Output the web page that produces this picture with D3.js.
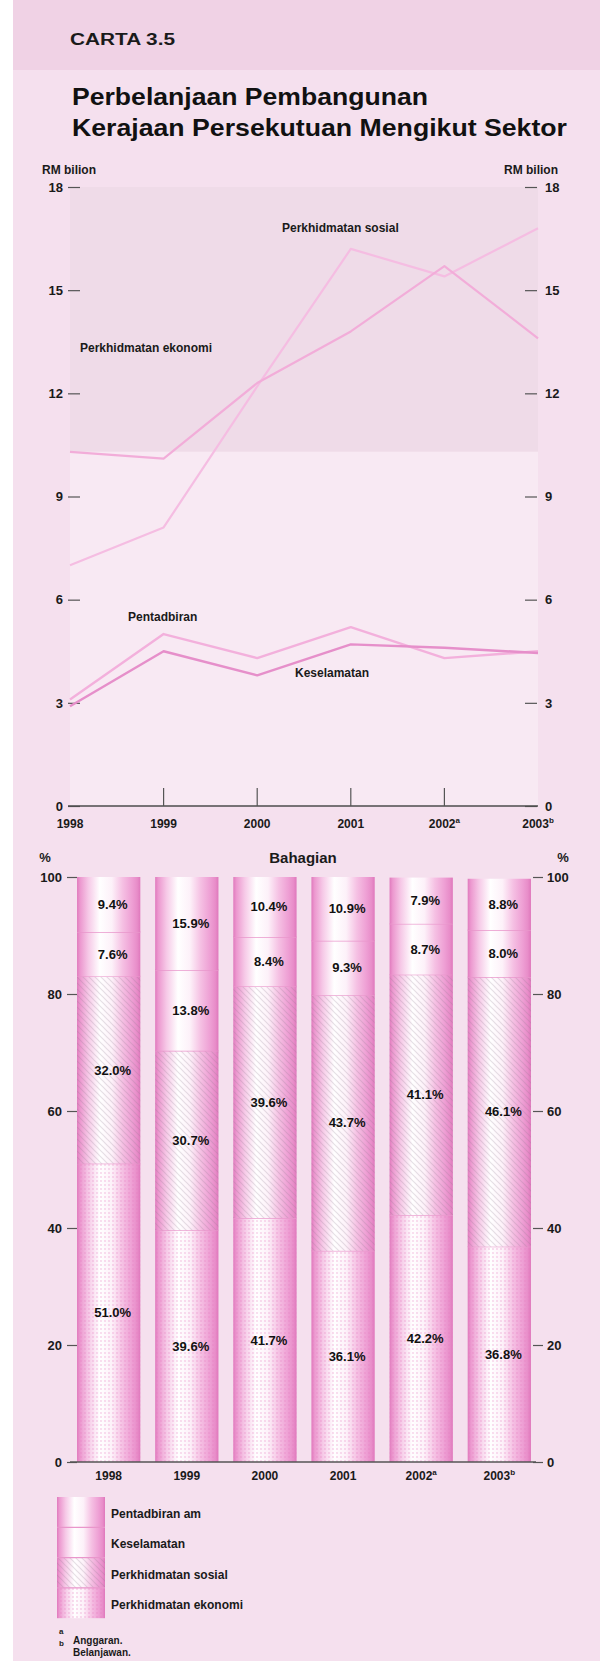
<!DOCTYPE html>
<html><head><meta charset="utf-8">
<script src="https://cdn.jsdelivr.net/npm/d3@7"></script>
<style>
body{margin:0;background:#fff;}
svg{display:block;font-family:"Liberation Sans",Arial,Helvetica,sans-serif;}
</style></head><body>
<svg id="c" width="600" height="1661"></svg>
<script>
// ---------- data ----------
const years = ["1998","1999","2000","2001","2002","2003"];
const yearSup = ["","","","","a","b"];
const rmEkonomi = [10.3,10.1,12.3,13.8,15.7,13.6];
const rmSosial = [7.0,8.1,12.2,16.2,15.4,16.8];
const rmPentadbiran = [3.1,5.0,4.3,5.2,4.3,4.5];
const rmKeselamatan = [2.9,4.5,3.8,4.7,4.6,4.45];
const lineTicks = [0,3,6,9,12,15,18];
const pctEkonomi = [51.0,39.6,41.7,36.1,42.2,36.8];
const pctSosial = [32.0,30.7,39.6,43.7,41.1,46.1];
const pctKeselamatan = [7.6,13.8,8.4,9.3,8.7,8.0];
const pctPentadbiran = [9.4,15.9,10.4,10.9,7.9,8.8];
const pctTicks = [0,20,40,60,80,100];
const legendLabels = ["Pentadbiran am","Keselamatan","Perkhidmatan sosial","Perkhidmatan ekonomi"];
const footnotes = [["a","Anggaran."],["b","Belanjawan."]];

// ---------- setup ----------
const svg = d3.select("#c");
const defs = svg.append("defs");
const g1 = defs.append("linearGradient").attr("id","barG").attr("x1","0").attr("x2","1").attr("y1","0").attr("y2","0");
[[0,"#e07abd"],[0.05,"#ec98cf"],[0.18,"#f6c9e7"],[0.36,"#ffffff"],[0.55,"#fdf1f9"],[0.72,"#f5c0e3"],[0.87,"#ee9fd4"],[0.95,"#e88dc9"],[1,"#df78bc"]]
  .forEach(s=>g1.append("stop").attr("offset",s[0]).attr("stop-color",s[1]));
const hatch = defs.append("pattern").attr("id","hatch").attr("width",6).attr("height",6).attr("patternUnits","userSpaceOnUse");
hatch.append("path").attr("d","M0,0 L6,6 M-1,5 L1,7 M5,-1 L7,1").attr("stroke","rgba(140,120,140,0.22)").attr("stroke-width",1.2);
const dots = defs.append("pattern").attr("id","dots").attr("width",4).attr("height",4).attr("patternUnits","userSpaceOnUse");
dots.append("circle").attr("cx",1).attr("cy",1).attr("r",0.9).attr("fill","rgba(230,120,190,0.35)");

// backgrounds
svg.append("rect").attr("x",0).attr("y",0).attr("width",600).attr("height",1661).attr("fill","#ffffff");
svg.append("rect").attr("x",13).attr("y",0).attr("width",587).attr("height",1661).attr("fill","#f5e0ee");
svg.append("rect").attr("x",13).attr("y",0).attr("width",587).attr("height",70).attr("fill","#f0d2e5");

// ---------- titles ----------
svg.append("text").attr("x",70).attr("y",45).attr("font-size",16).attr("font-weight","bold")
  .attr("textLength",105).attr("lengthAdjust","spacingAndGlyphs").attr("fill","#1a1a1a").text("CARTA 3.5");
svg.append("text").attr("x",72).attr("y",105).attr("font-size",23).attr("font-weight","bold")
  .attr("textLength",356).attr("lengthAdjust","spacingAndGlyphs").attr("fill","#111").text("Perbelanjaan Pembangunan");
svg.append("text").attr("x",72).attr("y",136).attr("font-size",23).attr("font-weight","bold")
  .attr("textLength",495).attr("lengthAdjust","spacingAndGlyphs").attr("fill","#111").text("Kerajaan Persekutuan Mengikut Sektor");

// ---------- line chart ----------
const xL = d3.scalePoint().domain(years).range([70,538]);
const yL = d3.scaleLinear().domain([0,18]).range([806,187]);

svg.append("rect").attr("x",70).attr("y",yL(18)).attr("width",468).attr("height",yL(10.3)-yL(18)).attr("fill","#efdbe8");
svg.append("rect").attr("x",70).attr("y",yL(10.3)).attr("width",468).attr("height",yL(0)-yL(10.3)).attr("fill","#f8e9f3");

function styleAxis(g, fs){
  g.select(".domain").remove();
  g.selectAll(".tick line").attr("stroke","#555").attr("stroke-width",1.2);
  g.selectAll(".tick text").attr("font-size",fs).attr("font-weight","bold").attr("fill","#1a1a1a")
    .attr("font-family","'Liberation Sans',Arial,sans-serif");
}
svg.append("g").attr("transform","translate(80,0)")
  .call(d3.axisLeft(yL).tickValues(lineTicks).tickSize(12).tickPadding(5)).call(g=>styleAxis(g,13));
svg.append("g").attr("transform","translate(525,0)")
  .call(d3.axisRight(yL).tickValues(lineTicks).tickSize(12).tickPadding(8)).call(g=>styleAxis(g,13));

svg.append("text").attr("x",42).attr("y",174).attr("font-size",12).attr("font-weight","bold").attr("fill","#1a1a1a").text("RM bilion");
svg.append("text").attr("x",558).attr("y",174).attr("text-anchor","end").attr("font-size",12).attr("font-weight","bold").attr("fill","#1a1a1a").text("RM bilion");

// x axis
svg.append("line").attr("x1",68).attr("x2",538).attr("y1",yL(0)).attr("y2",yL(0)).attr("stroke","#4d4d4d").attr("stroke-width",1.6);
svg.selectAll(".xtk").data(years.slice(1,5)).join("line").attr("class","xtk")
  .attr("x1",d=>xL(d)).attr("x2",d=>xL(d)).attr("y1",yL(0)).attr("y2",yL(0)-18).attr("stroke","#555").attr("stroke-width",1.2);
const yl = svg.selectAll(".xlab").data(years).join("text").attr("class","xlab")
  .attr("x",d=>xL(d)).attr("y",yL(0)+22).attr("text-anchor","middle").attr("font-size",12).attr("font-weight","bold").attr("fill","#1a1a1a");
yl.text(d=>d).append("tspan").attr("dy",-5).attr("font-size",8).text((d,i)=>yearSup[i]);

// lines
const lineGen = d3.line().x((d,i)=>xL(years[i])).y(d=>yL(d));
const series = [[rmSosial,"#f5bde2",2.2],[rmEkonomi,"#f2add9",2.2],[rmPentadbiran,"#f3b0dc",2.4],[rmKeselamatan,"#e68fca",2.4]];
series.forEach(s=>svg.append("path").attr("d",lineGen(s[0])).attr("fill","none").attr("stroke",s[1]).attr("stroke-width",s[2]).attr("stroke-linejoin","round"));

const lab = (t,x,y)=>svg.append("text").attr("x",x).attr("y",y).attr("font-size",12).attr("font-weight","bold").attr("fill","#1a1a1a").attr("dominant-baseline","central").text(t);
lab("Perkhidmatan sosial",282,228);
lab("Perkhidmatan ekonomi",80,348);
lab("Pentadbiran",128,617);
lab("Keselamatan",295,673);

// ---------- bar chart ----------
const xB = d3.scaleBand().domain(years).range([70,538]).paddingInner(0.19).paddingOuter(0.09);
const yB = d3.scaleLinear().domain([0,100]).range([1462,877]);

svg.append("text").attr("x",303).attr("y",857).attr("text-anchor","middle").attr("dominant-baseline","central")
  .attr("font-size",15).attr("font-weight","bold").attr("fill","#1a1a1a").text("Bahagian");
svg.append("text").attr("x",45).attr("y",857).attr("text-anchor","middle").attr("dominant-baseline","central")
  .attr("font-size",13).attr("font-weight","bold").attr("fill","#1a1a1a").text("%");
svg.append("text").attr("x",563).attr("y",857).attr("text-anchor","middle").attr("dominant-baseline","central")
  .attr("font-size",13).attr("font-weight","bold").attr("fill","#1a1a1a").text("%");

svg.append("g").attr("transform","translate(77,0)")
  .call(d3.axisLeft(yB).tickValues(pctTicks).tickSize(10).tickPadding(5)).call(g=>styleAxis(g,13));
svg.append("g").attr("transform","translate(533,0)")
  .call(d3.axisRight(yB).tickValues(pctTicks).tickSize(10).tickPadding(4)).call(g=>styleAxis(g,13));

const table = years.map((y,i)=>({year:y, ekonomi:pctEkonomi[i], sosial:pctSosial[i], keselamatan:pctKeselamatan[i], pentadbiran:pctPentadbiran[i]}));
const keys = ["ekonomi","sosial","keselamatan","pentadbiran"];
const stacked = d3.stack().keys(keys)(table);
const overlay = {ekonomi:"url(#dots)", sosial:"url(#hatch)", keselamatan:null, pentadbiran:null};

stacked.forEach(layer=>{
  const gL = svg.append("g");
  gL.selectAll("rect.b").data(layer).join("rect").attr("class","b")
    .attr("x",d=>xB(d.data.year)).attr("width",xB.bandwidth())
    .attr("y",d=>yB(Math.min(d[1],100))).attr("height",d=>yB(d[0])-yB(Math.min(d[1],100)))
    .attr("fill","url(#barG)");
  if(overlay[layer.key]){
    gL.selectAll("rect.o").data(layer).join("rect").attr("class","o")
      .attr("x",d=>xB(d.data.year)).attr("width",xB.bandwidth())
      .attr("y",d=>yB(Math.min(d[1],100))).attr("height",d=>yB(d[0])-yB(Math.min(d[1],100)))
      .attr("fill",overlay[layer.key]);
  }
  if(layer.key!=="pentadbiran"){
    gL.selectAll("line").data(layer).join("line")
      .attr("x1",d=>xB(d.data.year)).attr("x2",d=>xB(d.data.year)+xB.bandwidth())
      .attr("y1",d=>yB(d[1])).attr("y2",d=>yB(d[1])).attr("stroke","#e996cb").attr("stroke-width",1.3);
  }
});
stacked.forEach(layer=>{
  svg.append("g").selectAll("text").data(layer).join("text")
    .attr("x",d=>xB(d.data.year)+xB.bandwidth()/2+4).attr("y",d=>yB((d[0]+d[1])/2))
    .attr("text-anchor","middle").attr("dominant-baseline","central")
    .attr("font-size",13).attr("font-weight","bold").attr("fill","#111")
    .text(d=>d.data[layer.key].toFixed(1)+"%");
});

svg.append("line").attr("x1",70).attr("x2",536).attr("y1",yB(0)).attr("y2",yB(0)).attr("stroke","#555").attr("stroke-width",1.4);
const bl = svg.selectAll(".blab").data(years).join("text").attr("class","blab")
  .attr("x",d=>xB(d)+xB.bandwidth()/2).attr("y",yB(0)+18).attr("text-anchor","middle")
  .attr("font-size",12).attr("font-weight","bold").attr("fill","#1a1a1a");
bl.text(d=>d).append("tspan").attr("dy",-5).attr("font-size",8).text((d,i)=>yearSup[i]);

// ---------- legend ----------
const legTop = 1497, legH = 30.3;
legendLabels.forEach((t,i)=>{
  const k = keys[3-i];
  svg.append("rect").attr("x",57).attr("y",legTop+i*legH).attr("width",48).attr("height",legH).attr("fill","url(#barG)");
  if(overlay[k]) svg.append("rect").attr("x",57).attr("y",legTop+i*legH).attr("width",48).attr("height",legH).attr("fill",overlay[k]);
  if(i>0) svg.append("line").attr("x1",57).attr("x2",105).attr("y1",legTop+i*legH).attr("y2",legTop+i*legH).attr("stroke","#e996cb").attr("stroke-width",1.2);
  svg.append("text").attr("x",111).attr("y",legTop+i*legH+legH/2+2).attr("dominant-baseline","central")
    .attr("font-size",12).attr("font-weight","bold").attr("fill","#1a1a1a").text(t);
});
footnotes.forEach((f,i)=>{
  svg.append("text").attr("x",59).attr("y",1634+i*12).attr("font-size",8).attr("font-weight","bold").attr("fill","#1a1a1a").text(f[0]);
  svg.append("text").attr("x",73).attr("y",1644+i*12).attr("font-size",10).attr("font-weight","bold").attr("fill","#1a1a1a").text(f[1]);
});
</script>
</body></html>
